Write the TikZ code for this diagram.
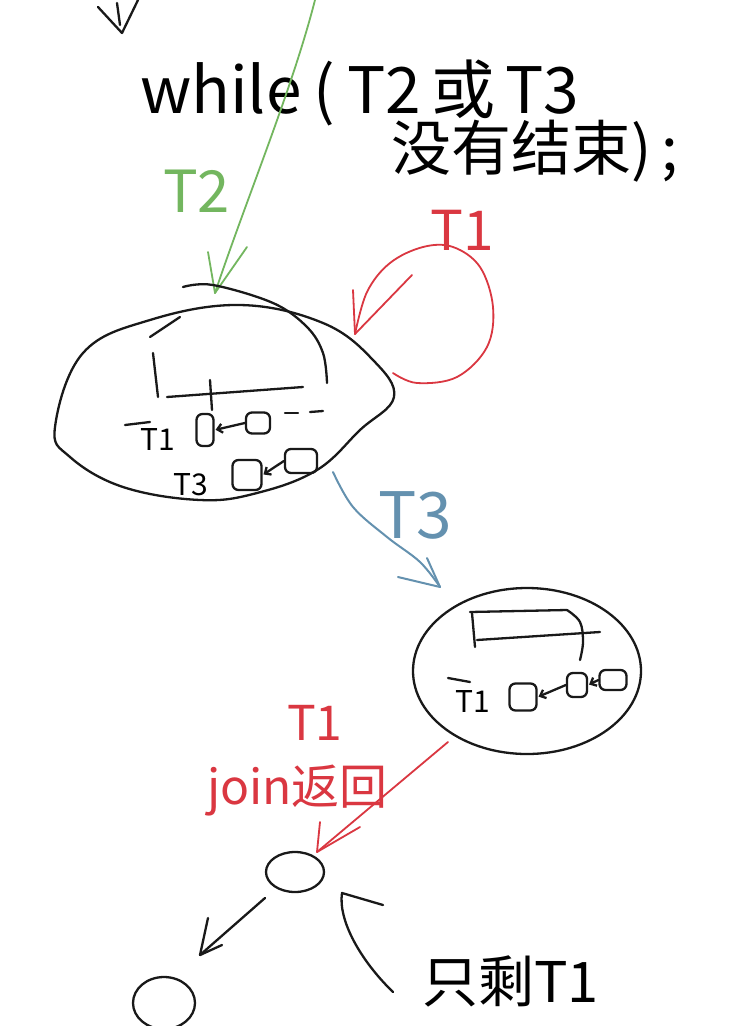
\documentclass[tikz,border=0pt]{standalone}
\usepackage{fontspec}
\setmainfont{Noto Sans CJK SC}
\usetikzlibrary{shapes.geometric,arrows.meta}
\definecolor{pgreen}{RGB}{115,182,95}
\definecolor{pred}{RGB}{218,55,65}
\definecolor{pblue}{RGB}{100,145,175}
\definecolor{pink}{RGB}{25,25,25}
\tikzset{
  ink/.style={draw=pink, line width=2.3pt, line cap=round, line join=round},
  gink/.style={draw=pgreen, line width=1.8pt, line cap=round, line join=round},
  rink/.style={draw=pred, line width=1.8pt, line cap=round, line join=round},
  bink/.style={draw=pblue, line width=2pt, line cap=round, line join=round},
  qbox/.style={ink, rectangle, rounded corners=6pt, inner sep=0pt},
  qarrow/.style={ink, -{Straight Barb[length=5pt,width=9pt]}, shorten >=1pt},
  hand/.style={inner sep=0pt, anchor=base west},
}
\begin{document}
\begin{tikzpicture}[x=1pt,y=-1pt]
\useasboundingbox[fill=white] (0,0) rectangle (730,1026);

% top-left partial arrow
\draw[ink] (98,7) -- (122,33) -- (138,0);
\draw[ink] (117,3) -- (120,25);

% while text
\node[hand] (w1) at (140,113) {\fontsize{64}{70}\selectfont while\hspace{12pt}(\hspace{12pt}T2\hspace{10pt}或\hspace{10pt}T3};
\node[hand] (w2) at (391,170) {\fontsize{60}{66}\selectfont 没有结束)\,;};

% green arrow
\coordinate (gS) at (315,0);
\coordinate (gT) at (215,293);
\draw[gink] (gS) .. controls (292,90) and (246,200) .. (gT);
\draw[gink] (208,252) -- (gT) -- (247,247);
\node[hand, text=pgreen] (gl) at (163,212) {\fontsize{58}{62}\selectfont T2};

% big egg
\draw[ink] plot[smooth cycle, tension=0.65] coordinates {(55,427) (83,353) (150,320) (240,305) (323,323) (373,360) (394,397) (360,430) (317,470) (257,493) (200,500) (123,487) (70,457)};
\draw[ink] (150,337) -- (180,317);
\draw[ink] plot[smooth, tension=0.6] coordinates {(183,287) (213,285) (273,303) (307,327) (323,353) (327,383)};
\draw[ink] (153,353) -- (158,397);
\draw[ink] (167,397) -- (303,387);
\draw[ink] (210,380) -- (212,410);
\draw[ink] (125,425) -- (150,422);
\node[hand] (bt1) at (140,450) {\fontsize{30}{32}\selectfont T1};
\node[qbox, minimum width=17pt, minimum height=32pt] (a1) at (205,430) {};
\node[qbox, minimum width=24pt, minimum height=21pt] (a2) at (258,423) {};
\draw[qarrow] (a2.west) -- (a1.east);
\draw[ink] (285,413) -- (298,413);
\draw[ink] (310,412) -- (323,411);
\node[hand] (bt3) at (173,495) {\fontsize{30}{32}\selectfont T3};
\node[qbox, minimum width=29pt, minimum height=30pt] (b1) at (247,475) {};
\node[qbox, minimum width=32pt, minimum height=24pt] (b2) at (301,461) {};
\draw[qarrow] (b2.west) -- (b1.east);

% red loop T1
\coordinate (rT) at (355,334);
\draw[rink] plot[smooth, tension=0.6] coordinates {(393,373) (417,383) (457,377) (487,347) (493,307) (480,267) (453,247) (423,247) (390,263) (367,292) (rT)};
\draw[rink] (353,290) -- (rT) -- (412,275);
\node[hand, text=pred] (rl1) at (430,250) {\fontsize{55}{58}\selectfont T1};

% blue arrow T3
\coordinate (bS) at (333,472);
\coordinate (bT) at (440,587);
\draw[bink] plot[smooth, tension=0.6] coordinates {(bS) (353,507) (387,537) (420,562) (bT)};
\draw[bink] (398,577) -- (bT) -- (427,558);
\node[hand, text=pblue] (bl) at (378,538) {\fontsize{64}{68}\selectfont T3};

% small egg
\node[ink, ellipse, minimum width=228pt, minimum height=166pt, inner sep=0pt] (se) at (527,671) {};
\draw[ink] (470,612) -- (567,610);
\draw[ink] plot[smooth, tension=0.6] coordinates {(567,610) (580,622) (583,642) (580,660)};
\draw[ink] (472,613) -- (475,647);
\draw[ink] (477,640) -- (600,632);
\draw[ink] (448,678) -- (470,682);
\node[hand] (st1) at (455,712) {\fontsize{30}{32}\selectfont T1};
\node[qbox, minimum width=27pt, minimum height=27pt] (c1) at (523,697) {};
\node[qbox, minimum width=20pt, minimum height=24pt] (c2) at (577,685) {};
\node[qbox, minimum width=27pt, minimum height=20pt] (c3) at (613,680) {};
\draw[qarrow] (c2.west) -- (c1.east);
\draw[qarrow] (c3.west) -- (c2.east);

% red join arrow
\node[ink, ellipse, minimum width=58pt, minimum height=40pt, inner sep=0pt] (n1) at (295,872) {};
\node[ink, ellipse, minimum width=62pt, minimum height=52pt, inner sep=0pt] (n2) at (164,1003) {};
\coordinate (jS) at (448,742);
\coordinate (jT) at (317,852);
\draw[rink] (jS) -- (jT);
\draw[rink] (320,822) -- (jT) -- (360,827);
\node[hand, text=pred] (rl2) at (287,740) {\fontsize{48}{52}\selectfont T1};
\node[hand, text=pred] (jn) at (207,804) {\fontsize{48}{52}\selectfont join返回};

% bottom arrows
\coordinate (dS) at (265,898);
\coordinate (dT) at (200,955);
\draw[ink] (dS) -- (dT);
\draw[ink] (208,918) -- (dT) -- (222,945);
\draw[ink] (383,905) -- (342,893) .. controls (338,920) and (360,960) .. (393,992);
\node[hand] (only) at (422,1002) {\fontsize{56}{60}\selectfont 只剩T1};
\end{tikzpicture}
\end{document}
